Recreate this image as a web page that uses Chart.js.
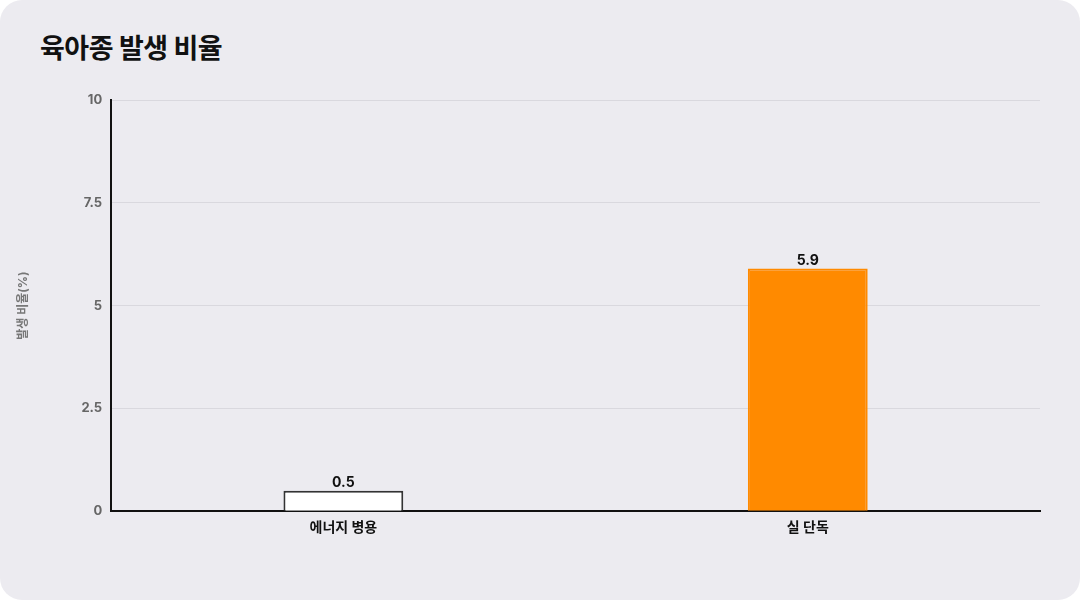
<!DOCTYPE html>
<html>
<head>
<meta charset="utf-8">
<script src="https://cdn.jsdelivr.net/npm/chart.js@4"></script>
<style>
  html, body { margin: 0; padding: 0; background: #ffffff; }
  .card {
    position: absolute; left: 0; top: 0; width: 1080px; height: 600px;
    background: #ecebf0; border-radius: 22px; box-sizing: border-box;
  }
  h1 {
    position: absolute; left: 40px; top: 27px; margin: 0;
    font-family: Inter, "Noto Sans CJK KR", sans-serif;
    font-size: 27px; font-weight: 700; color: #111; letter-spacing: -0.5px;
  }
  .wrap { position: absolute; left: 0; top: 80px; width: 1060px; height: 464px; }
</style>
</head>
<body>
<div class="card">
  <h1>육아종 발생 비율</h1>
  <div class="wrap"><canvas id="c"></canvas></div>
</div>
<script>
var categories = ["에너지 병용", "실 단독"];
var rates = [0.5, 5.9];
var barColors = ["#ffffff", "#ff8a00"];
var borderColors = ["#333333", "#ff8a00"];
var yTicks = [0, 2.5, 5, 7.5, 10];

var FONT = 'Inter, "Noto Sans CJK KR", sans-serif';

// value labels over bars
var valueLabels = {
	id: "valueLabels",
	afterDatasetsDraw: function(chart) {
		var ctx = chart.ctx;
		var meta = chart.getDatasetMeta(0);
		ctx.save();
		ctx.font = "700 14px " + FONT;
		ctx.fillStyle = "#111";
		ctx.textAlign = "center";
		ctx.textBaseline = "bottom";
		meta.data.forEach(function(bar, i) {
			ctx.fillText(String(rates[i]), bar.x, bar.y - 1);
		});
		ctx.restore();
	}
};

new Chart(document.getElementById("c"), {
	type: "bar",
	data: {
		labels: categories,
		datasets: [{
			data: rates,
			backgroundColor: barColors,
			borderColor: borderColors,
			borderWidth: 2,
			borderSkipped: "bottom",
			categoryPercentage: 1,
			barPercentage: 0.258
		}]
	},
	options: {
		responsive: true,
		maintainAspectRatio: false,
		animation: false,
		layout: { padding: { left: 12, right: 20, top: 20, bottom: 0 } },
		plugins: { legend: { display: false }, tooltip: { enabled: false } },
		scales: {
			x: {
				grid: { display: false, drawTicks: false },
				border: { color: "#111", width: 2 },
				ticks: { color: "#111", font: { family: FONT, size: 14, weight: "700" }, padding: 8 }
			},
			y: {
				min: 0, max: 10,
				afterBuildTicks: function(axis) {
					axis.ticks = yTicks.map(function(v) { return { value: v }; });
				},
				grid: { color: "#d9d8de", drawTicks: false },
				border: { color: "#111", width: 2 },
				ticks: {
					color: "#666",
					font: { family: FONT, size: 13, weight: "700" },
					padding: 9
				},
				title: {
					display: true, text: "발생 비율(%)", color: "#777",
					font: { family: FONT, size: 12, weight: "700" },
					padding: { bottom: 42 }
				}
			}
		}
	},
	plugins: [valueLabels]
});
</script>
</body>
</html>
